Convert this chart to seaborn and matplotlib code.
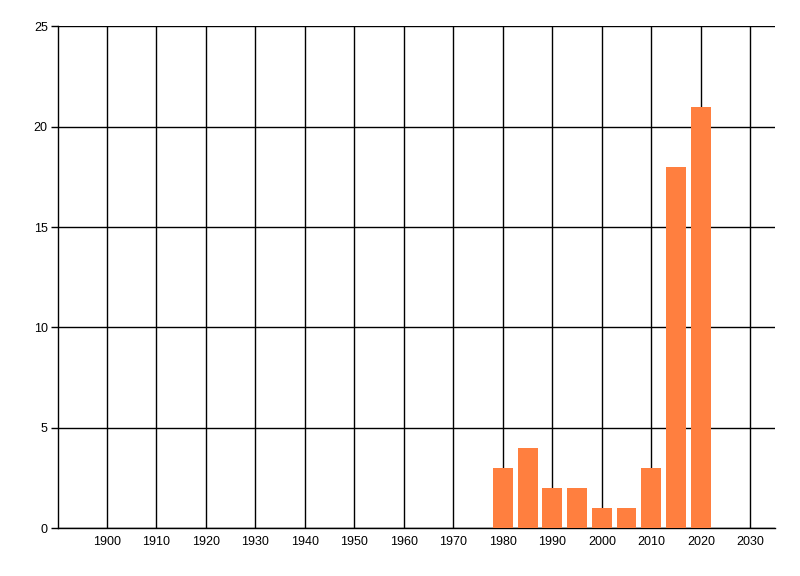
import matplotlib
matplotlib.use("Agg")
import matplotlib.pyplot as plt
import seaborn as sns
import pandas as pd

# data
years = [1980, 1985, 1990, 1995, 2000, 2005, 2010, 2015, 2020]
counts = [3, 4, 2, 2, 1, 1, 3, 18, 21]
x_ticks = [1900, 1910, 1920, 1930, 1940, 1950, 1960, 1970, 1980, 1990, 2000, 2010, 2020, 2030]
y_ticks = [0, 5, 10, 15, 20, 25]

sns.set_style("white")
plt.rcParams['font.family'] = ['Liberation Sans', 'DejaVu Sans']

df = pd.DataFrame({"year": years, "count": counts})

fig = plt.figure(figsize=(8, 5.76), dpi=100)
ax = fig.add_axes([0.0719, 0.0833, 0.8969, 0.8707])

sns.barplot(data=df, x="year", y="count", native_scale=True, width=0.8,
            color="#FF7F3F", saturation=1, linewidth=0, ax=ax, zorder=3)

ax.set_xlim(1890, 2035)
ax.set_ylim(0, 25)
ax.set_xticks(x_ticks)
ax.set_yticks(y_ticks)
ax.set_xlabel("")
ax.set_ylabel("")

ax.grid(True, color="black", linewidth=1.0, zorder=0)
ax.set_axisbelow(True)
for side in ["top", "right"]:
    ax.spines[side].set_visible(False)
for side in ["left", "bottom"]:
    ax.spines[side].set_color("black")
    ax.spines[side].set_linewidth(1.0)

ax.tick_params(axis="x", length=0, pad=6, labelsize=9, colors="black")
ax.tick_params(axis="y", length=5, width=1.0, pad=2, labelsize=9, colors="black", left=True)

fig.savefig("out.png", dpi=100, facecolor="white")
